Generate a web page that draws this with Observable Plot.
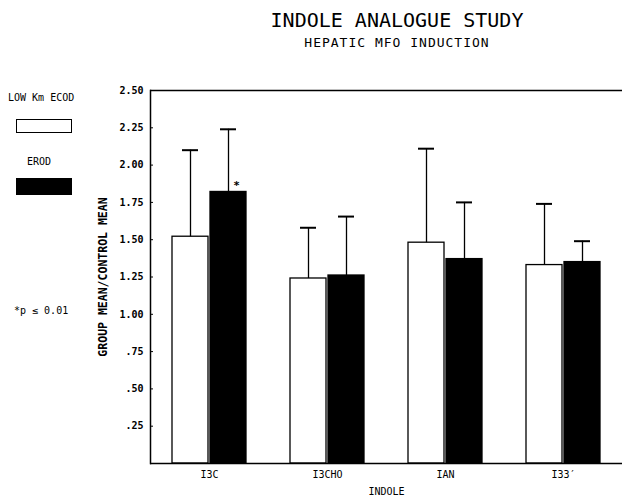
<!DOCTYPE html>
<html>
<head>
<meta charset="utf-8">
<script src="https://cdn.jsdelivr.net/npm/d3@7"></script>
<script src="https://cdn.jsdelivr.net/npm/@observablehq/plot@0.6"></script>
<style>
  body { margin: 0; background: white; }
  #wrap { position: relative; width: 630px; height: 496px; overflow: hidden; font-family: "DejaVu Sans Mono", monospace; color: black; }
  .abs { position: absolute; line-height: 1; white-space: nowrap; }
  .box { position: absolute; border: 1.5px solid black; box-sizing: border-box; }
</style>
</head>
<body>
<div id="wrap">
  <div id="chart"></div>
  <div class="abs" style="left:197px; width:400px; text-align:center; top:10px; font-size:20px;">INDOLE ANALOGUE STUDY</div>
  <div class="abs" style="left:197px; width:400px; text-align:center; top:36px; font-size:13px; letter-spacing:1px;">HEPATIC MFO INDUCTION</div>
  <div class="abs" style="left:8px; top:93px; font-size:10px;">LOW Km ECOD</div>
  <div class="box" style="left:16px; top:119px; width:56px; height:14px; background:white;"></div>
  <div class="abs" style="left:27px; top:157px; font-size:10px;">EROD</div>
  <div class="box" style="left:16px; top:178px; width:56px; height:17px; background:black;"></div>
  <div class="abs" style="left:14px; top:306px; font-size:10px;">*p ≤ 0.01</div>
  <div class="abs" style="left:104px; top:277px; font-size:11.5px; font-weight:bold; transform:translate(-50%,-50%) rotate(-90deg);">GROUP MEAN/CONTROL MEAN</div>
</div>
<script>
const categories = ["I3C", "I3CHO", "IAN", "I33′"];
const series = ["LOW Km ECOD", "EROD"];
const lowKmEcodMean = [1.52, 1.24, 1.48, 1.33];
const lowKmEcodErrTop = [2.10, 1.58, 2.11, 1.74];
const erodMean = [1.82, 1.26, 1.37, 1.35];
const erodErrTop = [2.24, 1.655, 1.75, 1.49];
const significant = [{cat: "I3C", series: "EROD"}];
const yTicks = [0.25, 0.5, 0.75, 1.0, 1.25, 1.5, 1.75, 2.0, 2.25, 2.5];
const yTickLabels = [".25", ".50", ".75", "1.00", "1.25", "1.50", "1.75", "2.00", "2.25", "2.50"];

const data = categories.flatMap((c, i) => [
  {cat: c, series: series[0], value: lowKmEcodMean[i], err: lowKmEcodErrTop[i]},
  {cat: c, series: series[1], value: erodMean[i], err: erodErrTop[i]}
]);
const sigData = significant.map(s => data.find(d => d.cat === s.cat && d.series === s.series));

const chart = Plot.plot({
  width: 630,
  height: 496,
  marginLeft: 150,
  marginRight: 8,
  marginTop: 90,
  marginBottom: 33,
  style: {fontFamily: "DejaVu Sans Mono", fontSize: "10px", color: "black", background: "white"},
  fx: {domain: categories, padding: 0, label: null, axis: null},
  x: {domain: series, axis: null, paddingInner: 0.05, paddingOuter: 0.54},
  y: {domain: [0, 2.5], axis: null},
  color: {domain: series, range: ["white", "black"]},
  marks: [
    Plot.axisFx({anchor: "bottom", tickSize: 0, tickPadding: 7, label: "INDOLE", labelAnchor: "center", labelOffset: 31}),
    Plot.axisY({anchor: "left", ticks: yTicks, tickFormat: (d) => yTickLabels[yTicks.indexOf(d)], tickSize: -3, tickPadding: 10, fontWeight: "bold", label: null}),
    Plot.barY(data, {fx: "cat", x: "series", y: "value", fill: "series", stroke: "black", strokeWidth: 1.3}),
    Plot.ruleX(data, {fx: "cat", x: "series", y1: "value", y2: "err", stroke: "black", strokeWidth: 1.3}),
    Plot.tickY(data, {fx: "cat", x: "series", y: "err", insetLeft: 10, insetRight: 10, stroke: "black", strokeWidth: 2}),
    Plot.text(sigData, {fx: "cat", x: "series", y: "value", text: () => "*", dx: 8, dy: -6, fontSize: 11, fontWeight: "bold"}),
    Plot.ruleY([0, 2.5], {stroke: "black", strokeWidth: 1.5}),
    Plot.frame({anchor: "left", facet: "super", stroke: "black", strokeWidth: 1.5})
  ]
});
document.getElementById("chart").appendChild(chart);
</script>
</body>
</html>
